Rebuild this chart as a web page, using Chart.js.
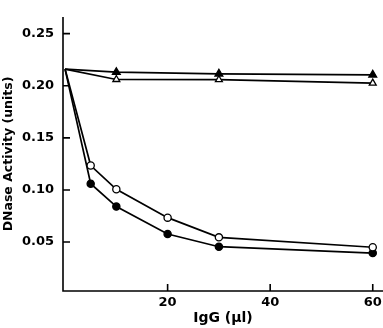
<!DOCTYPE html>
<html><head><meta charset="utf-8">
<script src="https://cdn.jsdelivr.net/npm/chart.js@4/dist/chart.umd.min.js"></script>
<style>html,body{margin:0;padding:0;background:#fff}#wrap{width:383px;height:328px}</style>
</head><body><div id="wrap"><canvas id="c"></canvas></div>
<script>
const xTicks = [20, 40, 60];
const yTicks = [0.05, 0.10, 0.15, 0.20, 0.25];
const xStar = [0, 10, 30, 60];
const yStar = [0.216, 0.213, 0.2115, 0.2105];
const xOpenTri = [0, 10, 30, 60];
const yOpenTri = [0.216, 0.206, 0.2058, 0.2025];
const xOpenCirc = [0, 5, 10, 20, 30, 60];
const yOpenCirc = [0.216, 0.1234, 0.1006, 0.0734, 0.0545, 0.045];
const xFillCirc = [0, 5, 10, 20, 30, 60];
const yFillCirc = [0.216, 0.106, 0.084, 0.0577, 0.0455, 0.0394];

function pts(xs, ys){ return xs.map((x,i)=>({x:x, y:ys[i]})); }
function styleArr(n, first, rest){ return Array.from({length:n},(_,i)=> i===0 ? first : rest); }

const FONT = "'DejaVu Sans', sans-serif";

const inwardTicks = {
  id:'inwardTicks',
  afterDraw(chart){
    const ctx = chart.ctx, a = chart.chartArea;
    const xs = chart.scales.x, ys = chart.scales.y;
    ctx.save();
    ctx.strokeStyle = '#000'; ctx.lineWidth = 1.6;
    ctx.beginPath();
    ctx.moveTo(a.left, a.top); ctx.lineTo(a.left, a.bottom); ctx.lineTo(a.right, a.bottom);
    ctx.stroke();
    ctx.beginPath();
    xTicks.forEach(v=>{ const p = xs.getPixelForValue(v); ctx.moveTo(p, a.bottom); ctx.lineTo(p, a.bottom-7); });
    yTicks.forEach(v=>{ const p = ys.getPixelForValue(v); ctx.moveTo(a.left, p); ctx.lineTo(a.left+7, p); });
    ctx.stroke();
    ctx.restore();
  }
};

const common = { borderColor:'#000', borderWidth:1.7, pointBorderColor:'#000', pointBorderWidth:1.3, showLine:true, tension:0 };

new Chart(document.getElementById('c'), {
  type:'scatter',
  data:{ datasets:[
    Object.assign({}, common, { data: pts(xOpenTri, yOpenTri), pointStyle:'triangle', pointRadius: styleArr(xOpenTri.length,0,4), pointBackgroundColor:'#fff' }),
    Object.assign({}, common, { data: pts(xStar, yStar), pointStyle:'triangle', pointRadius: styleArr(xStar.length,0,4.5), pointBackgroundColor:'#000' }),
    Object.assign({}, common, { data: pts(xOpenCirc, yOpenCirc), pointStyle:'circle', pointRadius: styleArr(xOpenCirc.length,0,3.6), pointBackgroundColor:'#fff' }),
    Object.assign({}, common, { data: pts(xFillCirc, yFillCirc), pointStyle:'circle', pointRadius: styleArr(xFillCirc.length,0,3.6), pointBackgroundColor:'#000' })
  ]},
  options:{
    responsive:true, maintainAspectRatio:false, animation:false,
    layout:{ autoPadding:false, padding:{ top:17, right:0, left:0, bottom:0 } },
    plugins:{ legend:{display:false}, tooltip:{enabled:false} },
    scales:{
      x:{ type:'linear', min:-0.4, max:62,
        grid:{ display:false, drawTicks:false }, border:{ display:false },
        afterBuildTicks(s){ s.ticks = xTicks.map(v=>({value:v})); },
        ticks:{ color:'#000', font:{ family:FONT, size:13, weight:'bold' }, padding:4, maxRotation:0, autoSkip:false },
        title:{ display:true, text:'IgG (μl)', color:'#000', font:{ family:FONT, size:14, weight:'bold' }, padding:{top:0,bottom:1} },
        afterFit(s){ s.height = 37; s.paddingLeft = 0; s.paddingRight = 0; }
      },
      y:{ type:'linear', min:0.003, max:0.266,
        grid:{ display:false, drawTicks:false }, border:{ display:false },
        afterBuildTicks(s){ s.ticks = yTicks.map(v=>({value:v})); },
        ticks:{ color:'#000', font:{ family:FONT, size:13, weight:'bold' }, padding:9, callback:(v)=>v.toFixed(2) },
        title:{ display:true, text:'DNase Activity (units)', color:'#000', font:{ family:FONT, size:12.5, weight:'bold' }, padding:{top:1,bottom:0} },
        afterFit(s){ s.width = 63; s.paddingTop = 0; s.paddingBottom = 0; }
      }
    }
  },
  plugins:[inwardTicks]
});
</script></body></html>
